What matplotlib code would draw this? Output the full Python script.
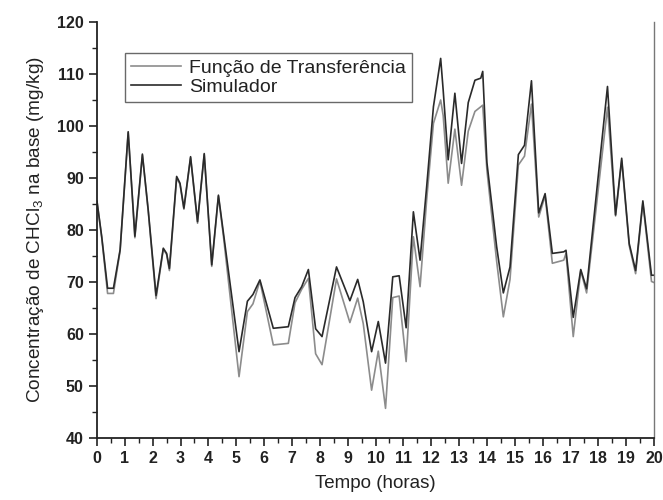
import matplotlib
matplotlib.use("Agg")
import matplotlib.pyplot as plt
from matplotlib.ticker import MultipleLocator

plt.rcParams['font.family'] = ['Liberation Sans', 'DejaVu Sans']
plt.rcParams['mathtext.fontset'] = 'custom'
plt.rcParams['mathtext.rm'] = 'Liberation Sans'
plt.rcParams['mathtext.it'] = 'Liberation Sans'

# time (hours) and CHCl3 concentration
hours = [0.00, 0.17, 0.38, 0.59, 0.83, 1.12, 1.27, 1.36, 1.63, 1.84,
         2.12, 2.38, 2.50, 2.60, 2.86, 2.98, 3.12, 3.36, 3.61, 3.85,
         4.12, 4.36, 4.54, 5.10, 5.40, 5.60, 5.85, 6.33, 6.87, 7.11,
         7.35, 7.59, 7.85, 8.08, 8.60, 9.08, 9.36, 9.56, 9.86, 10.10,
         10.36, 10.62, 10.85, 11.10, 11.36, 11.60, 11.84, 12.08, 12.34, 12.43,
         12.61, 12.85, 13.09, 13.33, 13.57, 13.78, 13.85, 14.00, 14.35, 14.59,
         14.83, 15.13, 15.35, 15.60, 15.86, 16.09, 16.35, 16.76, 16.84, 17.10,
         17.37, 17.58, 18.33, 18.62, 18.84, 19.11, 19.34, 19.60, 19.91, 20.00]

simulador = [85.5, 78.7, 68.8, 68.8, 76.2, 98.9, 86.4, 78.8, 94.6, 83.8,
             67.4, 76.5, 75.5, 72.6, 90.3, 89.0, 84.2, 94.1, 81.6, 94.7,
             73.3, 86.7, 79.4, 56.6, 66.3, 67.6, 70.4, 61.1, 61.4, 67.0,
             69.1, 72.4, 61.0, 59.5, 72.9, 66.4, 70.5, 66.2, 56.6, 62.4,
             54.4, 71.0, 71.2, 61.2, 83.5, 74.2, 88.5, 103.7, 113.0, 106.9,
             93.5, 106.3, 92.8, 104.5, 108.8, 109.2, 110.5, 93.0, 76.8, 67.9,
             72.9, 94.5, 96.3, 108.7, 83.3, 87.0, 75.5, 75.8, 76.1, 63.2,
             72.4, 68.7, 107.6, 82.9, 93.8, 77.4, 72.2, 85.6, 71.3, 71.3]

funcao_transf = [85.5, 78.5, 67.8, 67.8, 76.0, 98.7, 86.2, 78.5, 94.4, 83.6,
                 66.8, 76.3, 75.3, 72.2, 90.0, 88.8, 84.0, 93.9, 81.3, 94.5,
                 73.0, 86.5, 78.8, 51.8, 64.3, 65.8, 70.2, 57.9, 58.2, 66.0,
                 68.6, 70.7, 56.2, 54.1, 70.6, 62.2, 66.9, 62.0, 49.2, 56.7,
                 45.7, 67.0, 67.3, 54.7, 78.7, 69.1, 86.0, 100.5, 105.0, 102.0,
                 89.0, 99.4, 88.6, 99.0, 102.8, 103.7, 104.0, 91.5, 74.0, 63.3,
                 70.5, 92.5, 94.2, 104.2, 82.5, 86.6, 73.6, 74.2, 75.5, 59.5,
                 72.2, 67.9, 103.6, 82.7, 93.4, 77.0, 71.6, 85.2, 70.1, 69.9]

fig = plt.figure(figsize=(6.63, 5.0), dpi=100)
ax = fig.add_axes([97 / 663, 1 - 438 / 500, 557 / 663, 416 / 500])

ax.plot(hours, funcao_transf, color='#8c8c8c', lw=1.2, label='Função de Transferência')
ax.plot(hours, simulador, color='#2a2a2a', lw=1.2, label='Simulador')

ax.set_xlim(0, 20)
ax.set_ylim(40, 120)
ax.xaxis.set_major_locator(MultipleLocator(1))
ax.xaxis.set_minor_locator(MultipleLocator(0.5))
ax.yaxis.set_major_locator(MultipleLocator(10))
ax.yaxis.set_minor_locator(MultipleLocator(5))
ax.tick_params(which='major', direction='out', length=6, width=1.2,
               labelsize=11.5, colors='#222222')
ax.tick_params(which='minor', direction='out', length=3.5, width=1.0, colors='#222222')
for lbl in ax.get_xticklabels() + ax.get_yticklabels():
    lbl.set_fontweight('bold')

ax.spines['top'].set_visible(False)
ax.spines['right'].set_color('#777777')
ax.spines['right'].set_linewidth(1.0)
for side in ('left', 'bottom'):
    ax.spines[side].set_linewidth(1.3)
    ax.spines[side].set_color('#222222')

ax.set_xlabel('Tempo (horas)', fontsize=13.5, color='#222222', labelpad=6)
ax.set_ylabel('Concentração de CHCl$_3$ na base (mg/kg)', fontsize=13.7,
              color='#222222', labelpad=8)

leg = ax.legend(loc='upper left', bbox_to_anchor=(0.05, 0.925), fontsize=14,
                frameon=True, fancybox=False, handlelength=2.6, handletextpad=0.4,
                borderpad=0.3, labelspacing=0.1, borderaxespad=0)
leg.get_frame().set_edgecolor('#444444')
leg.get_frame().set_linewidth(1.0)
for t in leg.get_texts():
    t.set_color('#222222')

fig.savefig('out.png', dpi=100)
